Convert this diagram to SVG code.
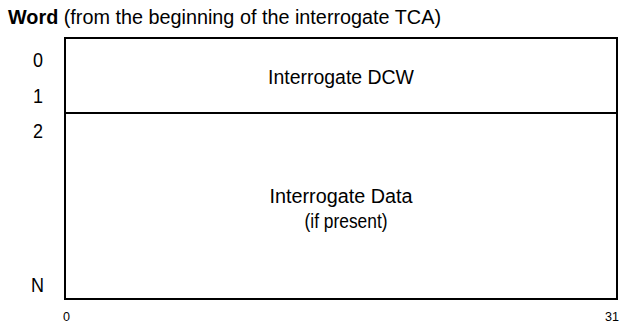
<svg xmlns="http://www.w3.org/2000/svg" width="624" height="325" viewBox="0 0 624 325">
<style>
text{font-family:"Liberation Sans",Arial,sans-serif;fill:#000}
.l{font-size:20px}
.c{font-size:20px;text-anchor:middle}
.s{font-size:12px}
.box{fill:#fff;stroke:#000;stroke-width:2}
</style>
<rect width="624" height="325" fill="#fff"/>
<text x="8" y="24" class="l" textLength="433" lengthAdjust="spacingAndGlyphs"><tspan font-weight="bold">Word</tspan> (from the beginning of the interrogate TCA)</text>
<g id="labels">
<text x="33" y="67" class="l" textLength="10" lengthAdjust="spacingAndGlyphs">0</text>
<text x="33" y="103" class="l" textLength="10" lengthAdjust="spacingAndGlyphs">1</text>
<text x="33" y="138" class="l" textLength="10" lengthAdjust="spacingAndGlyphs">2</text>
<text x="31" y="292" class="l" textLength="13" lengthAdjust="spacingAndGlyphs">N</text>
<text x="63" y="321" class="s" textLength="7" lengthAdjust="spacingAndGlyphs">0</text>
<text x="605" y="321" class="s" textLength="14" lengthAdjust="spacingAndGlyphs">31</text>
</g>
<g id="dcw">
<rect class="box" x="65" y="38" width="552" height="75"/>
<text x="341" y="84" class="c" textLength="146" lengthAdjust="spacingAndGlyphs">Interrogate DCW</text>
</g>
<g id="data">
<rect class="box" x="65" y="113" width="552" height="186"/>
<text x="341" y="203" class="c" textLength="143" lengthAdjust="spacingAndGlyphs">Interrogate Data</text>
<text x="346" y="228" class="c" textLength="83" lengthAdjust="spacingAndGlyphs">(if present)</text>
</g>
</svg>
